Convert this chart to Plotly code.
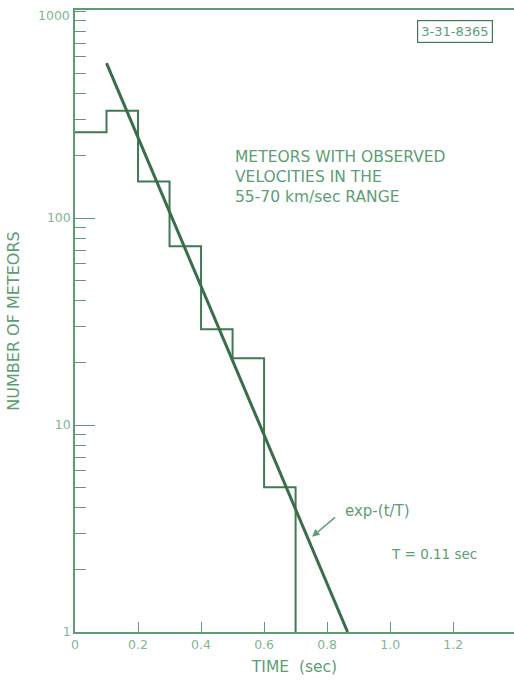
import plotly.graph_objects as go

# histogram of meteor durations (bin edges in sec, counts per bin)
bin_edges = [0.0, 0.1, 0.2, 0.3, 0.4, 0.5, 0.6, 0.7]
counts = [260, 330, 150, 73, 29, 21, 5]

# fitted exp-(t/T) line, end points
fit_t = [0.1, 0.865]
fit_n = [560, 1]

x_ticks = [0, 0.2, 0.4, 0.6, 0.8, 1.0, 1.2]
x_labels = ["0", "0.2", "0.4", "0.6", "0.8", "1.0", "1.2"]
y_ticks = [1, 10, 100]
y_labels = ["1", "10", "100"]

LINE = "#3f7a52"
TEXT = "#5c9e72"
LIGHT = "#7fb592"
FONT = "DejaVu Sans"

step_x = bin_edges + [bin_edges[-1]]
step_y = counts + [counts[-1], 1]

fig = go.Figure()
fig.add_trace(go.Scatter(x=step_x, y=step_y, mode="lines",
                         line=dict(color=LINE, width=2, shape="hv"),
                         hoverinfo="skip"))
fig.add_trace(go.Scatter(x=fit_t, y=fit_n, mode="lines",
                         line=dict(color="#3a6e4a", width=3),
                         hoverinfo="skip"))

fig.add_annotation(x=0.5, y=2.35, xref="x", yref="y", yanchor="top", xanchor="left",
                   text="METEORS WITH OBSERVED<br>VELOCITIES IN THE<br>55-70 km/sec RANGE",
                   showarrow=False, align="left",
                   font=dict(family=FONT, size=15.5, color=TEXT))
fig.add_annotation(x=0.85, y=0.585, xref="x", yref="y", xanchor="left",
                   text="exp-(t/T)", showarrow=False,
                   font=dict(family=FONT, size=15, color=TEXT))
fig.add_annotation(x=0.752, y=0.46, xref="x", yref="y",
                   ax=0.83, ay=0.56, axref="x", ayref="y",
                   text="", showarrow=True, arrowhead=2, arrowsize=1,
                   arrowwidth=1.5, arrowcolor=TEXT)
fig.add_annotation(x=0.995, y=0.375, xref="x", yref="y", xanchor="left",
                   text="T = 0.11 sec", showarrow=False,
                   font=dict(family=FONT, size=13.5, color=TEXT))
fig.add_annotation(x=0.866, y=0.966, xref="paper", yref="paper",
                   xanchor="center", yanchor="middle",
                   text="3-31-8365", showarrow=False,
                   font=dict(family=FONT, size=13, color=TEXT),
                   bordercolor=LINE, borderwidth=1.2, borderpad=3)
fig.add_annotation(x=0, y=3, xref="paper", yref="y", xanchor="right",
                   yanchor="middle", xshift=-3, yshift=-4,
                   text="1000", showarrow=False,
                   font=dict(family=FONT, size=12.5, color=LIGHT))

fig.update_xaxes(range=[0, 1.393], tickvals=x_ticks, ticktext=x_labels,
                 ticks="inside", ticklen=10, tickcolor=TEXT, tickwidth=1.2,
                 showline=True, linecolor=TEXT, linewidth=1.5, mirror=True,
                 showgrid=False, zeroline=False,
                 tickfont=dict(family=FONT, size=12.5, color=LIGHT),
                 title=dict(text="TIME  (sec)", standoff=10,
                            font=dict(family=FONT, size=15.5, color=TEXT)))
fig.update_yaxes(type="log", range=[0, 3.005], tickvals=y_ticks, ticktext=y_labels,
                 ticks="inside", ticklen=20, tickcolor=TEXT, tickwidth=1.2,
                 minor=dict(ticks="inside", ticklen=11, dtick="D1",
                            tickcolor=TEXT, tickwidth=1.2, showgrid=False),
                 showline=True, linecolor=TEXT, linewidth=1.5,
                 showgrid=False, zeroline=False,
                 tickfont=dict(family=FONT, size=12.5, color=LIGHT),
                 title=dict(text="NUMBER OF METEORS", standoff=23,
                            font=dict(family=FONT, size=16, color=TEXT)))

fig.update_layout(width=514, height=681, showlegend=False,
                  margin=dict(l=75, r=0, t=10, b=49),
                  plot_bgcolor="white", paper_bgcolor="white")

fig.write_html("out.html", config={"displayModeBar": False},
               post_script="document.body.style.margin='0px';")
